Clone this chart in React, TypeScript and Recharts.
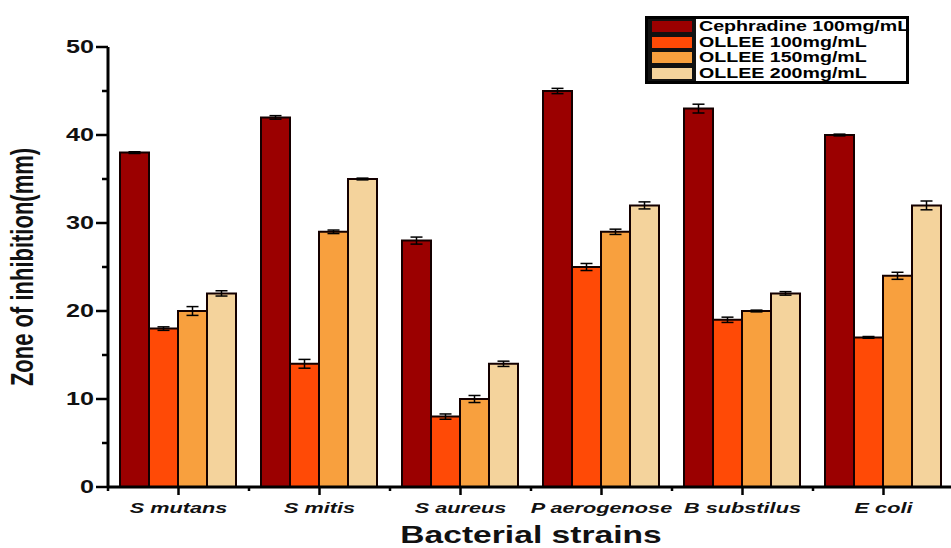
import { Bar, BarChart, ErrorBar, Legend, XAxis, YAxis } from "recharts";

const strains = ["S mutans", "S mitis", "S aureus", "P aerogenose", "B substilus", "E coli"];

const seriesNames = [
  "Cephradine 100mg/mL",
  "OLLEE 100mg/mL",
  "OLLEE 150mg/mL",
  "OLLEE 200mg/mL",
];
const seriesColors = ["#9b0000", "#ff4a06", "#f8a03e", "#f4d39c"];

const cephradine100 = [38, 42, 28, 45, 43, 40];
const ollee100 = [18, 14, 8, 25, 19, 17];
const ollee150 = [20, 29, 10, 29, 20, 24];
const ollee200 = [22, 35, 14, 32, 22, 32];

const cephradine100Err = [0.1, 0.2, 0.4, 0.3, 0.5, 0.1];
const ollee100Err = [0.2, 0.5, 0.3, 0.4, 0.3, 0.1];
const ollee150Err = [0.5, 0.2, 0.4, 0.3, 0.1, 0.4];
const ollee200Err = [0.3, 0.1, 0.3, 0.4, 0.2, 0.5];

const yTicks = [0, 5, 10, 15, 20, 25, 30, 35, 40, 45, 50];

const values = [cephradine100, ollee100, ollee150, ollee200];
const errors = [cephradine100Err, ollee100Err, ollee150Err, ollee200Err];

const data = strains.map((name, i) => {
  const row: Record<string, string | number> = { name };
  values.forEach((v, s) => {
    row[`s${s}`] = v[i];
    row[`e${s}`] = errors[s][i];
  });
  return row;
});

const FONT = "'Liberation Sans', Arial, Helvetica, sans-serif";
const STRETCH = 1.4;
const BAND = 141;

function YTick({ x, y, payload }: any) {
  const major = payload.value % 10 === 0;
  return (
    <g>
      <line x1={x - (major ? 12 : 6)} x2={x} y1={y} y2={y} stroke="#000" strokeWidth={2.5} />
      {major && (
        <text
          transform={`translate(${x - 14},${y}) scale(${STRETCH},1)`}
          textAnchor="end"
          dominantBaseline="central"
          fontFamily={FONT}
          fontWeight="bold"
          fontSize={18}
          fill="#111"
        >
          {payload.value}
        </text>
      )}
    </g>
  );
}

function XTick({ x, y, payload, index }: any) {
  const last = index === strains.length - 1;
  return (
    <g>
      <line x1={x} x2={x} y1={y} y2={y + 8} stroke="#000" strokeWidth={2.5} />
      <line x1={x - BAND / 2} x2={x - BAND / 2} y1={y} y2={y + 4} stroke="#000" strokeWidth={2.5} />
      {last && (
        <line x1={x + BAND / 2} x2={x + BAND / 2} y1={y} y2={y + 4} stroke="#000" strokeWidth={2.5} />
      )}
      <text
        transform={`translate(${x},${y + 21}) scale(${STRETCH},1)`}
        textAnchor="middle"
        dominantBaseline="central"
        fontFamily={FONT}
        fontWeight="bold"
        fontStyle="italic"
        fontSize={15.5}
        fill="#111"
      >
        {payload.value}
      </text>
    </g>
  );
}

function renderLegend() {
  return (
    <div
      style={{
        border: "3px solid #000",
        background: "#fff",
        fontFamily: FONT,
        width: 258,
      }}
    >
      {seriesNames.map((n, i) => (
        <div key={n} style={{ display: "flex", height: 15.5, alignItems: "center" }}>
          <div
            style={{
              width: 48,
              height: "100%",
              background: "#111",
              display: "flex",
              alignItems: "center",
              justifyContent: "center",
            }}
          >
            <div style={{ width: 40, height: 11, background: seriesColors[i] }} />
          </div>
          <span
            style={{
              marginLeft: 3,
              fontSize: 14,
              fontWeight: "bold",
              color: "#000",
              whiteSpace: "nowrap",
              display: "inline-block",
              transform: `scaleX(${STRETCH})`,
              transformOrigin: "left center",
              lineHeight: "15px",
            }}
          >
            {n}
          </span>
        </div>
      ))}
    </div>
  );
}

export default function App() {
  return (
    <div
      style={{
        position: "absolute",
        left: 0,
        top: 0,
        width: 951,
        height: 548,
        overflow: "hidden",
        background: "#fff",
      }}
    >
      <BarChart
        width={960}
        height={548}
        data={data}
        margin={{ top: 47, right: 6, left: 38, bottom: 0 }}
        barCategoryGap={12}
        barGap={0}
      >
        <XAxis
          dataKey="name"
          height={61}
          tickLine={false}
          tickSize={0}
          tickMargin={0}
          interval={0}
          axisLine={{ stroke: "#000", strokeWidth: 3 }}
          tick={<XTick />}
          label={(p: any) => {
            const vb = p.viewBox;
            return (
              <text
                transform={`translate(${vb.x + vb.width / 2},${vb.y + 48}) scale(${STRETCH},1)`}
                textAnchor="middle"
                dominantBaseline="central"
                fontFamily={FONT}
                fontWeight="bold"
                fontSize={24}
                fill="#111"
              >
                Bacterial strains
              </text>
            );
          }}
        />
        <YAxis
          width={70}
          domain={[0, 50]}
          ticks={yTicks}
          interval={0}
          tickLine={false}
          tickSize={0}
          tickMargin={0}
          axisLine={{ stroke: "#000", strokeWidth: 3 }}
          tick={<YTick />}
          label={(p: any) => {
            const vb = p.viewBox;
            return (
              <text
                transform={`translate(${vb.x - 15},${vb.y + vb.height / 2}) scale(${STRETCH},1) rotate(-90)`}
                textAnchor="middle"
                dominantBaseline="central"
                fontFamily={FONT}
                fontWeight="bold"
                fontSize={22}
                fill="#111"
              >
                Zone of inhibition(mm)
              </text>
            );
          }}
        />
        <Legend
          layout="horizontal"
          verticalAlign="middle"
          align="center"
          wrapperStyle={{ left: 645, top: 16, width: "auto" }}
          content={renderLegend}
        />
        {seriesNames.map((n, s) => (
          <Bar
            key={n}
            dataKey={`s${s}`}
            name={n}
            fill={seriesColors[s]}
            stroke="#140000"
            strokeWidth={2}
            isAnimationActive={false}
          >
            <ErrorBar dataKey={`e${s}`} width={6} stroke="#000" strokeWidth={1.5} />
          </Bar>
        ))}
      </BarChart>
    </div>
  );
}
